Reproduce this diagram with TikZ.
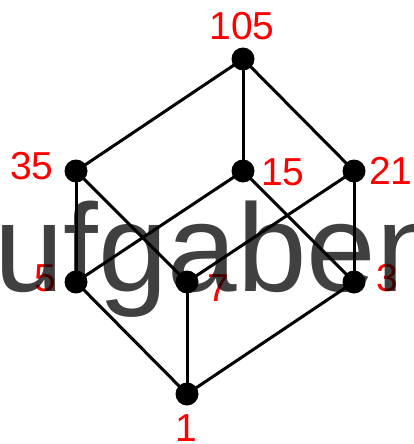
\documentclass[tikz,border=0pt]{standalone}
\usepackage{fontspec}
\setmainfont{Liberation Sans}
\newfontfamily\labfamily{Liberation Sans}
\tikzset{
  dot/.style={circle, fill=black, minimum size=23pt, inner sep=0pt},
  lab/.style={text=red, font=\labfamily\fontsize{39}{39}\selectfont, inner sep=0pt},
  edge/.style={line width=3pt, black},
  wm/.style={text=black, text opacity=0.75, font=\labfamily\fontsize{125}{125}\selectfont, inner sep=0pt}
}
\begin{document}
\begin{tikzpicture}[x=1pt,y=-1pt]
\useasboundingbox (0,0) rectangle (414,444);
% vertices
\node[dot] (n105) at (243,59) {};
\node[dot] (n35) at (76,171) {};
\node[dot] (n15) at (243,171) {};
\node[dot] (n21) at (354,171) {};
\node[dot] (n5) at (76,282) {};
\node[dot] (n7) at (187,282) {};
\node[dot] (n3) at (354,282) {};
\node[dot] (n1) at (187,394) {};
% edges
\draw[edge] (n1.center) -- (n5.center);
\draw[edge] (n1.center) -- (n7.center);
\draw[edge] (n1.center) -- (n3.center);
\draw[edge] (n5.center) -- (n35.center);
\draw[edge] (n5.center) -- (n15.center);
\draw[edge] (n7.center) -- (n35.center);
\draw[edge] (n7.center) -- (n21.center);
\draw[edge] (n3.center) -- (n15.center);
\draw[edge] (n3.center) -- (n21.center);
\draw[edge] (n35.center) -- (n105.center);
\draw[edge] (n15.center) -- (n105.center);
\draw[edge] (n21.center) -- (n105.center);
% labels
\node[lab] (l105) at (242,26) {105};
\node[lab] (l35) at (32,166) {35};
\node[lab] (l15) at (283,172) {15};
\node[lab] (l21) at (391,171) {21};
\node[lab] (l5) at (45,278) {5};
\node[lab] (l7) at (218,288) {7};
\node[lab] (l3) at (387,278) {3};
\node[lab] (l1) at (186,428) {1};
% watermark
\begin{scope}
\clip (0,0) rectangle (414,444);
\node[wm, anchor=base west] (wm) at (-6,291) {ufgaben};
\end{scope}
\end{tikzpicture}
\end{document}
